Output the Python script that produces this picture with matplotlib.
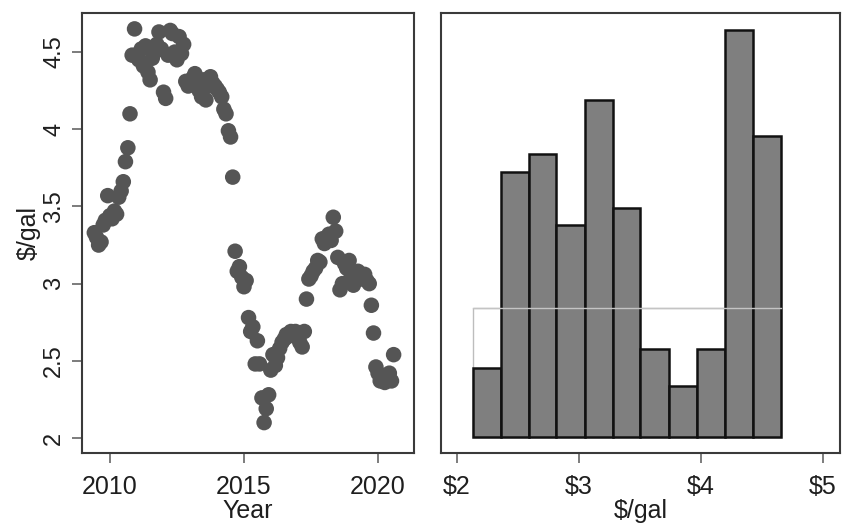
import matplotlib
matplotlib.use("Agg")
import matplotlib.pyplot as plt
from matplotlib.patches import Rectangle

plt.rcParams['font.family'] = ['Liberation Sans', 'DejaVu Sans']

# Monthly average gasoline price, $/gal
years = [2009.42, 2009.50, 2009.58, 2009.67, 2009.75, 2009.83, 2009.92,
         2010.00, 2010.08, 2010.17, 2010.25, 2010.33, 2010.42, 2010.50, 2010.58, 2010.67, 2010.75, 2010.83, 2010.92,
         2011.00, 2011.08, 2011.17, 2011.25, 2011.33, 2011.42, 2011.50, 2011.58, 2011.67, 2011.75, 2011.83, 2011.92,
         2012.00, 2012.08, 2012.17, 2012.25, 2012.33, 2012.42, 2012.50, 2012.58, 2012.67, 2012.75, 2012.83, 2012.92,
         2013.00, 2013.08, 2013.17, 2013.25, 2013.33, 2013.42, 2013.50, 2013.58, 2013.67, 2013.75, 2013.83, 2013.92,
         2014.00, 2014.08, 2014.17, 2014.25, 2014.33, 2014.42, 2014.50, 2014.58, 2014.67, 2014.75, 2014.83, 2014.92,
         2015.00, 2015.08, 2015.17, 2015.25, 2015.33, 2015.42, 2015.50, 2015.58, 2015.67, 2015.75, 2015.83, 2015.92,
         2016.00, 2016.08, 2016.17, 2016.25, 2016.33, 2016.42, 2016.50, 2016.58, 2016.67, 2016.75, 2016.83, 2016.92,
         2017.00, 2017.08, 2017.17, 2017.25, 2017.33, 2017.42, 2017.50, 2017.58, 2017.67, 2017.75, 2017.83, 2017.92,
         2018.00, 2018.08, 2018.17, 2018.25, 2018.33, 2018.42, 2018.50, 2018.58, 2018.67, 2018.75, 2018.83, 2018.92,
         2019.00, 2019.08, 2019.17, 2019.25, 2019.33, 2019.42, 2019.50, 2019.58, 2019.67, 2019.75, 2019.83, 2019.92,
         2020.00, 2020.08, 2020.17, 2020.25, 2020.33, 2020.42, 2020.50, 2020.58]
prices = [3.33, 3.30, 3.25, 3.27, 3.38, 3.41, 3.57,
          3.44, 3.42, 3.47, 3.45, 3.56, 3.60, 3.66, 3.79, 3.88, 4.10, 4.48, 4.65,
          4.47, 4.45, 4.52, 4.41, 4.54, 4.37, 4.32, 4.46, 4.50, 4.55, 4.63, 4.52,
          4.24, 4.20, 4.48, 4.64, 4.62, 4.50, 4.45, 4.60, 4.49, 4.55, 4.31, 4.28,
          4.30, 4.33, 4.36, 4.30, 4.25, 4.21, 4.32, 4.19, 4.28, 4.34, 4.30, 4.28,
          4.26, 4.24, 4.21, 4.13, 4.10, 3.99, 3.95, 3.69, 3.21, 3.08, 3.11, 3.04,
          2.98, 3.02, 2.78, 2.69, 2.72, 2.48, 2.63, 2.48, 2.26, 2.10, 2.19, 2.28,
          2.44, 2.54, 2.47, 2.52, 2.58, 2.62, 2.64, 2.67, 2.66, 2.69, 2.68, 2.69,
          2.66, 2.62, 2.59, 2.69, 2.90, 3.03, 3.05, 3.08, 3.10, 3.15, 3.14, 3.29,
          3.26, 3.30, 3.32, 3.28, 3.43, 3.34, 3.17, 2.96, 3.00, 3.13, 3.10, 3.15,
          3.05, 2.99, 3.02, 3.08, 3.06, 3.03, 3.06, 3.02, 3.00, 2.86, 2.68, 2.46,
          2.42, 2.37, 2.40, 2.36, 2.39, 2.42, 2.37, 2.54]

# Histogram of prices: bin edges and densities
bin_edges = [2.133, 2.360, 2.589, 2.815, 3.049, 3.278, 3.504, 3.736, 3.965, 4.197, 4.423, 4.660]
densities = [0.212, 0.815, 0.870, 0.651, 1.036, 0.705, 0.271, 0.156, 0.271, 1.251, 0.925]
# Uniform reference density over the observed range
uniform_lo = 2.133
uniform_hi = 4.660
uniform_density = 0.395

year_ticks = [2010, 2015, 2020]
price_ticks = [2, 2.5, 3, 3.5, 4, 4.5]
price_tick_labels = ['2', '2.5', '3', '3.5', '4', '4.5']
dollar_ticks = [2, 3, 4, 5]
dollar_tick_labels = ['\\$2', '\\$3', '\\$4', '\\$5']

W, H = 842, 526
fig = plt.figure(figsize=(W / 100, H / 100), dpi=100)
fig.patch.set_facecolor('white')

frame_color = '#3a3a3a'
text_color = '#1e1e1e'

ax1 = fig.add_axes([82 / W, (H - 453) / H, 332 / W, 440 / H])
ax2 = fig.add_axes([441 / W, (H - 453) / H, 399 / W, 440 / H])

for ax in (ax1, ax2):
    for s in ax.spines.values():
        s.set_color(frame_color)
        s.set_linewidth(1.5)
    ax.tick_params(axis='x', direction='out', length=7, width=1.2, color='#666666',
                   labelsize=18, labelcolor=text_color, pad=9)
    ax.tick_params(axis='y', direction='out', length=7, width=1.2, color='#666666',
                   labelsize=17, labelcolor=text_color, pad=5)

# Scatter of price over time
ax1.scatter(years, prices, s=125, color='#555555', edgecolors='none', zorder=3)
ax1.set_xlim(2008.96, 2021.34)
ax1.set_ylim(1.903, 4.753)
ax1.set_xticks(year_ticks)
ax1.set_xticklabels([str(y) for y in year_ticks])
ax1.set_yticks(price_ticks)
ax1.set_yticklabels(price_tick_labels, rotation=90, va='center')
ax1.set_xlabel('Year', fontsize=18, color=text_color, labelpad=0)
ax1.set_ylabel('\\$/gal', fontsize=18, color=text_color, labelpad=2)

# Histogram with uniform density overlay
lefts = bin_edges[:-1]
widths = [b - a for a, b in zip(bin_edges[:-1], bin_edges[1:])]
ax2.add_patch(Rectangle((uniform_lo, 0), uniform_hi - uniform_lo, uniform_density,
                        fill=False, edgecolor='#bdbdbd', linewidth=1.0, zorder=1))
ax2.bar(lefts, densities, width=widths, align='edge', color='#7f7f7f',
        edgecolor='#111111', linewidth=1.8, zorder=2)
ax2.plot([uniform_lo, uniform_hi], [uniform_density, uniform_density],
         color='#c4c4c4', linewidth=1.0, zorder=3)
ax2.set_xlim(1.87, 5.14)
ax2.set_ylim(-0.050, 1.304)
ax2.set_xticks(dollar_ticks)
ax2.set_xticklabels(dollar_tick_labels)
ax2.set_yticks([])
ax2.set_xlabel('\\$/gal', fontsize=18, color=text_color, labelpad=0)

fig.savefig('out.png', dpi=100, facecolor='white')
